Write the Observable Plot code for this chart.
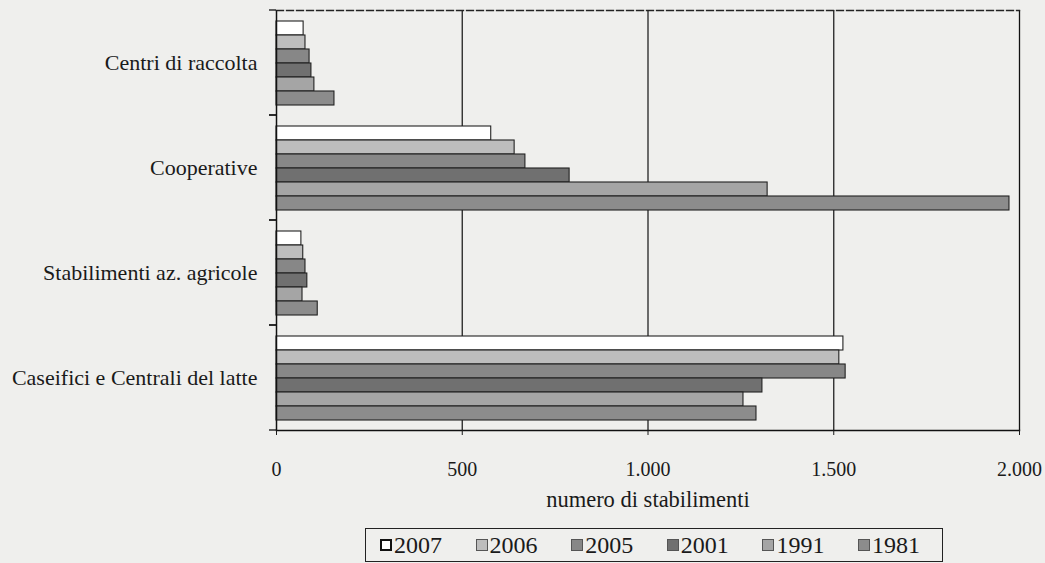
<!DOCTYPE html>
<html>
<head>
<meta charset="utf-8">
<script src="https://cdn.jsdelivr.net/npm/d3@7"></script>
<script src="https://cdn.jsdelivr.net/npm/@observablehq/plot@0.6"></script>
<style>
  html, body { margin: 0; padding: 0; background: #efefed; }
  body { font-family: "Liberation Serif", "DejaVu Serif", serif; color: #1a1a1a; width: 1045px; height: 563px; overflow: hidden; }
  svg text { font-family: "Liberation Serif", "DejaVu Serif", serif; }
  g[aria-label="x-axis label"] { font-size: 22.5px; }
  #legend {
    margin: 8px 0 0 365px; width: 578px; height: 34px; box-sizing: border-box;
    border: 1.5px solid #222; display: flex; align-items: center; justify-content: space-between;
    padding: 0 22px 0 14px; font-size: 24px; line-height: 1;
  }
  .entry { display: flex; align-items: center; }
  .sw { width: 12px; height: 12px; margin-right: 2px; box-sizing: border-box; border: 1px solid #555; }
</style>
</head>
<body>
<div id="chart"></div>
<div id="legend"></div>
<script>
// ---- data ----
const categories = ["Centri di raccolta", "Cooperative", "Stabilimenti az. agricole", "Caseifici e Centrali del latte"];
const years = ["2007", "2006", "2005", "2001", "1991", "1981"];
const values2007 = [73, 578, 67, 1526];
const values2006 = [78, 641, 72, 1515];
const values2005 = [89, 670, 78, 1532];
const values2001 = [94, 789, 83, 1308];
const values1991 = [102, 1322, 70, 1257];
const values1981 = [156, 1973, 111, 1292];
const xTicks = [0, 500, 1000, 1500, 2000];
const xLabel = "numero di stabilimenti";
const colors = ["#ffffff", "#bdbdbd", "#878787", "#707070", "#a5a5a5", "#8c8c8c"];

const series = [values2007, values2006, values2005, values2001, values1991, values1981];
const rows = [];
categories.forEach((c, i) => years.forEach((y, j) => rows.push({category: c, year: y, value: series[j][i]})));

const fmt = d => d3.format(",")(d).replace(/,/g, ".");

// small ticks at the boundaries of each category band on the left axis
function boundaryTicks(index, scales, values, dims) {
  const g = d3.create("svg:g").attr("stroke", "#111").attr("stroke-width", 1.3);
  const x0 = dims.marginLeft;
  for (const y of [dims.marginTop, dims.height - dims.marginBottom]) {
    g.append("line").attr("x1", x0 - 7).attr("x2", x0).attr("y1", y).attr("y2", y);
  }
  return g.node();
}

const serif = "'Liberation Serif', 'DejaVu Serif', serif";
const chart = Plot.plot({
  width: 1045,
  height: 520,
  marginLeft: 276,
  marginRight: 26,
  marginTop: 10,
  marginBottom: 90,
  style: {background: "transparent", fontFamily: serif, color: "#1a1a1a", overflow: "visible"},
  x: {domain: [0, 2000]},
  y: {domain: years, paddingInner: 0, paddingOuter: 0.7, axis: null},
  fy: {domain: categories, padding: 0},
  color: {domain: years, range: colors},
  marks: [
    Plot.ruleX(xTicks.slice(1, 4), {stroke: "#222", strokeWidth: 1.3}),
    Plot.barX(rows, {x: "value", y: "year", fy: "category", fill: "year", stroke: "#222", strokeWidth: 1.1}),
    Plot.ruleX([xTicks[0]], {stroke: "#111", strokeWidth: 1.5}),
    Plot.ruleX([xTicks[4]], {stroke: "#111", strokeWidth: 1.3}),
    Plot.frame({anchor: "top", facetAnchor: "top", stroke: "#222", strokeWidth: 1.3, strokeDasharray: "7,3"}),
    Plot.frame({anchor: "bottom", facetAnchor: "bottom", stroke: "#111", strokeWidth: 1.5}),
    boundaryTicks,
    Plot.axisFy({anchor: "left", tickSize: 0, tickPadding: 19, fontSize: 22, fontFamily: serif, label: null}),
    Plot.axisX({ticks: xTicks, tickSize: 5, tickPadding: 26, fontSize: 20, fontFamily: serif, tickFormat: fmt,
      label: xLabel, labelAnchor: "center", labelArrow: "none", labelOffset: 76})
  ]
});
document.getElementById("chart").appendChild(chart);

// legend
const legend = d3.select("#legend");
years.forEach((y, i) => {
  const e = legend.append("div").attr("class", "entry");
  e.append("div").attr("class", "sw")
    .style("background", colors[i])
    .style("border", i === 0 ? "2px solid #111" : "1px solid #555");
  e.append("span").text(y);
});
</script>
</body>
</html>
